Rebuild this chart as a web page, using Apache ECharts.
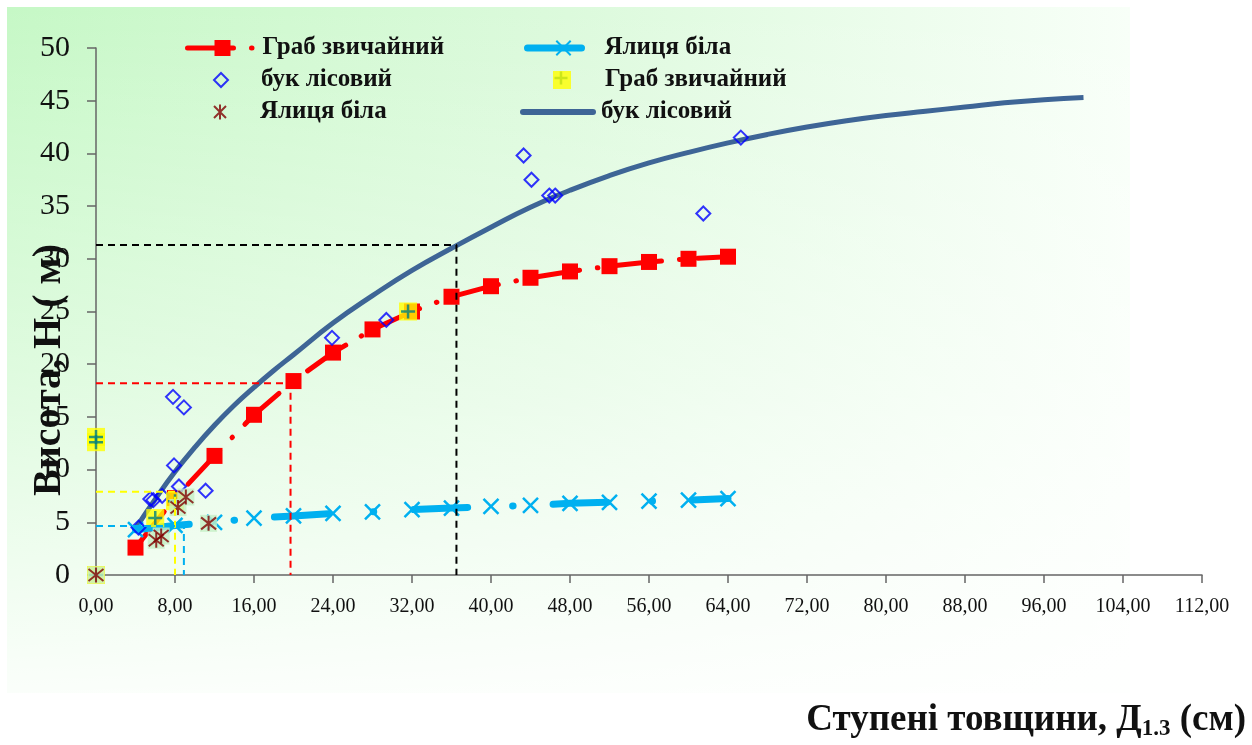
<!DOCTYPE html>
<html>
<head>
<meta charset="utf-8">
<script src="https://cdn.jsdelivr.net/npm/echarts@6/dist/echarts.min.js"></script>
<style>
html,body{margin:0;padding:0;background:#fff;}
#chart{width:1252px;height:745px;}
</style>
</head>
<body>
<div id="chart"></div>
<script>
// Граб звичайний — averaged heights by diameter class (cm → m)
const grabDiam   = [4, 8, 12, 16, 20, 24, 28, 32, 36, 40, 44, 48, 52, 56, 60, 64];
const grabHeight = [2.6, 7.3, 11.3, 15.2, 18.4, 21.1, 23.3, 25.0, 26.4, 27.4, 28.2, 28.8, 29.3, 29.7, 30.0, 30.2];

// Ялиця біла — averaged heights by diameter class
const yalDiam   = [4, 8, 12, 16, 20, 24, 28, 32, 36, 40, 44, 48, 52, 56, 60, 64];
const yalHeight = [4.3, 4.7, 5.0, 5.4, 5.6, 5.85, 6.0, 6.2, 6.35, 6.5, 6.6, 6.8, 6.9, 7.0, 7.1, 7.25];

// бук лісовий — height curve
const bukCurveDiam   = [4, 6, 8, 10, 12, 14, 16, 18, 20, 24, 28, 32, 36, 40, 44, 48, 52, 56, 60, 64, 68, 72, 76, 80, 84, 88, 92, 96, 100];
const bukCurveHeight = [4.4, 7.2, 9.8, 12.1, 14.2, 16.1, 17.8, 19.4, 20.9, 23.9, 26.5, 28.9, 31.0, 33.0, 34.9, 36.5, 37.9, 39.1, 40.1, 41.0, 41.8, 42.5, 43.1, 43.6, 44.0, 44.4, 44.8, 45.1, 45.3];

// Measured trees
const bukObsD = [4.3, 5.5, 5.8, 6.7, 7.9, 8.4, 11.1, 7.8, 8.9, 23.9, 29.4, 43.3, 44.1, 45.9, 46.5, 61.5, 65.3];
const bukObsH = [4.5, 7.2, 7.1, 7.5, 10.4, 8.4, 8.0, 16.9, 15.9, 22.5, 24.2, 39.8, 37.5, 36.0, 36.0, 34.3, 41.5];
const grabObsD = [0, 0, 0, 6.0, 8.0, 31.6];
const grabObsH = [12.6, 13.1, 0, 5.4, 7.0, 25.0];
const yalObsD = [0, 6.1, 6.6, 8.3, 9.1, 11.4];
const yalObsH = [0, 3.3, 3.7, 6.4, 7.4, 4.9];

// Reading guides (diameter, height) polylines
const guideRedD = [0, 19.7, 19.7],    guideRedH = [18.2, 18.2, 0];
const guideBlackD = [0, 36.5, 36.5],  guideBlackH = [31.3, 31.3, 0];
const guideYellowD = [0, 8.0, 8.0],   guideYellowH = [7.9, 7.9, 0];
const guideBlueD = [0, 8.9, 8.9],     guideBlueH = [4.65, 4.65, 0];

// Axis settings
const xMin = 0, xMax = 112, xStep = 8;
const yMin = 0, yMax = 50, yStep = 5;

const zip = (a, b) => a.map((v, i) => [v, b[i]]);

const SERIF = '"Liberation Serif", "Times New Roman", serif';
const X_PATH = 'path://M0,0L10,10M0,10L10,0';
const PLUS_PATH = 'path://M5,0V10M0,5H10';
const STAR_PATH = 'path://M5,0V10M1,1L9,9M1,9L9,1';
const DIAMOND_PATH = 'path://M5,0L10,5L5,10L0,5Z';
const SQUARE_PATH = 'path://M0,0H10V10H0Z';
const BAR_ICON = 'path://M3,0H73A3,3,0,0,1,73,6H3A3,3,0,0,1,3,0Z';

const legendLabels = {
  grabLine: 'Граб звичайний',
  yalLine: 'Ялиця біла',
  bukObs: 'бук лісовий',
  grabObs: 'Граб звичайний',
  yalObs: 'Ялиця біла',
  bukCurve: 'бук лісовий'
};

function guide(d, h, color) {
  return {
    type: 'line', data: zip(d, h), showSymbol: false, silent: true, z: 8,
    lineStyle: { color: color, width: 2, type: [7, 5] }
  };
}

// one legend block per entry: two columns, three rows
function legendItem(entry, left, rowCenter, iconW, iconH) {
  return {
    left: left, top: rowCenter - 12.5, orient: 'vertical',
    itemWidth: iconW, itemHeight: iconH,
    data: [entry],
    formatter: n => legendLabels[n],
    lineStyle: { width: 'inherit' },
    textStyle: { fontFamily: SERIF, fontWeight: 'bold', fontSize: 25, color: '#111', lineHeight: 25 }
  };
}

const chart = echarts.init(document.getElementById('chart'), null, { renderer: 'canvas' });

chart.setOption({
  animation: false,
  backgroundColor: '#ffffff',
  graphic: [
    {
      type: 'rect', z: -11, silent: true,
      shape: { x: 7, y: 7, width: 1123, height: 686 },
      style: {
        fill: new echarts.graphic.LinearGradient(0, 0, 1, 0, [
          { offset: 0, color: '#c6f8c6' },
          { offset: 0.5, color: '#dcfadc' },
          { offset: 1, color: '#f8fff8' }
        ])
      }
    },
    {
      type: 'rect', z: -10, silent: true,
      shape: { x: 7, y: 7, width: 1123, height: 686 },
      style: {
        fill: new echarts.graphic.LinearGradient(0, 0, 0, 1, [
          { offset: 0, color: 'rgba(255,255,255,0)' },
          { offset: 0.55, color: 'rgba(255,255,255,0.45)' },
          { offset: 1, color: 'rgba(255,255,255,0.92)' }
        ])
      }
    },
    {
      type: 'text', z: 20,
      x: 50, y: 370, rotation: Math.PI / 2,
      style: {
        text: 'Висота, Н ( м)',
        font: 'bold 40px ' + SERIF,
        fill: '#111', align: 'center', verticalAlign: 'middle'
      }
    },
    {
      type: 'text', z: 20,
      x: 1246, y: 720,
      style: {
        text: '{a|Ступені товщини, Д}{s|1.3}{a| (см)}',
        align: 'right', verticalAlign: 'middle',
        rich: {
          a: { font: 'bold 37px ' + SERIF, fill: '#111', lineHeight: 44 },
          s: { font: 'bold 23px ' + SERIF, fill: '#111', lineHeight: 44, padding: [18, 0, 0, 0] }
        }
      }
    },
    {
      // teal cross over the yellow legend square
      type: 'group', z: 20, x: 561, y: 78,
      children: [
        { type: 'line', shape: { x1: -6.5, y1: 0, x2: 6.5, y2: 0 }, style: { stroke: '#008080', lineWidth: 2.5 } },
        { type: 'line', shape: { x1: 0, y1: -6.5, x2: 0, y2: 6.5 }, style: { stroke: '#008080', lineWidth: 2.5 } }
      ]
    }
  ],
  grid: { left: 96, right: 50, top: 48, bottom: 170 },
  legend: [
    legendItem('grabLine', 180, 43, 70, 20),
    legendItem({ name: 'bukObs', icon: DIAMOND_PATH }, 208, 75, 70, 14),
    legendItem({ name: 'yalObs', icon: STAR_PATH }, 208, 107, 70, 15),
    legendItem('yalLine', 519, 43, 72, 18),
    legendItem({ name: 'grabObs', icon: SQUARE_PATH }, 548, 75, 76, 18),
    legendItem({ name: 'bukCurve', icon: BAR_ICON }, 515, 107, 76, 6)
  ],
  xAxis: {
    type: 'value', min: xMin, max: xMax, interval: xStep,
    axisLine: { show: true, lineStyle: { color: '#666', width: 1.5 } },
    axisTick: { show: true, length: 8, lineStyle: { color: '#666', width: 1.5 } },
    splitLine: { show: false },
    axisLabel: {
      margin: 22, fontFamily: SERIF, fontSize: 20, color: '#111',
      formatter: v => v.toFixed(2).replace('.', ',')
    }
  },
  yAxis: {
    type: 'value', min: yMin, max: yMax, interval: yStep,
    axisLine: { show: true, lineStyle: { color: '#666', width: 1.5 } },
    axisTick: { show: true, length: 9, lineStyle: { color: '#666', width: 1.5 } },
    splitLine: { show: false },
    axisLabel: { margin: 26, fontFamily: SERIF, fontSize: 30, color: '#111' }
  },
  series: [
    {
      name: 'bukCurve', type: 'line', data: zip(bukCurveDiam, bukCurveHeight),
      smooth: true, showSymbol: false, z: 2,
      lineStyle: { color: '#3e6596', width: 5 },
      itemStyle: { color: '#3e6596' }
    },
    {
      name: 'grabLine', type: 'line', data: zip(grabDiam, grabHeight), z: 3,
      symbol: 'rect', symbolSize: 16,
      lineStyle: { color: '#ff0000', width: 5, type: [46, 18, 0.5, 18], cap: 'round' },
      itemStyle: { color: '#ff0000' }
    },
    {
      name: 'yalLine', type: 'line', data: zip(yalDiam, yalHeight), z: 3,
      symbol: X_PATH, symbolSize: 15,
      lineStyle: { color: '#00b0f0', width: 7, type: [54, 45, 0.5, 40], cap: 'round' },
      itemStyle: { color: '#00b0f0', borderColor: '#00b0f0', borderWidth: 2.5 }
    },
    {
      name: 'bukObs', type: 'scatter', data: zip(bukObsD, bukObsH), z: 4,
      symbol: DIAMOND_PATH, symbolSize: 14,
      itemStyle: { color: 'rgba(0,0,0,0)', borderColor: '#0000ff', borderWidth: 2 }
    },
    {
      name: 'grabObs', type: 'scatter', data: zip(grabObsD, grabObsH), z: 5,
      symbol: SQUARE_PATH, symbolSize: 18,
      itemStyle: { color: '#ffff00' }
    },
    {
      name: 'grabObsCross', type: 'scatter', data: zip(grabObsD, grabObsH), z: 5, silent: true,
      symbol: PLUS_PATH, symbolSize: 14,
      itemStyle: { color: '#008080', borderColor: '#008080', borderWidth: 2.5 }
    },
    {
      name: 'yalObsBg', type: 'scatter', data: zip(yalObsD, yalObsH), z: 5, silent: true,
      symbol: 'rect', symbolSize: 17,
      itemStyle: { color: '#c6efc6' }
    },
    {
      name: 'yalObs', type: 'scatter', data: zip(yalObsD, yalObsH), z: 6,
      symbol: STAR_PATH, symbolSize: 15,
      itemStyle: { color: '#800000', borderColor: '#800000', borderWidth: 2 }
    },
    guide(guideRedD, guideRedH, '#ff0000'),
    guide(guideBlackD, guideBlackH, '#000000'),
    guide(guideYellowD, guideYellowH, '#ffff00'),
    guide(guideBlueD, guideBlueH, '#00b0f0')
  ]
});
</script>
</body>
</html>
